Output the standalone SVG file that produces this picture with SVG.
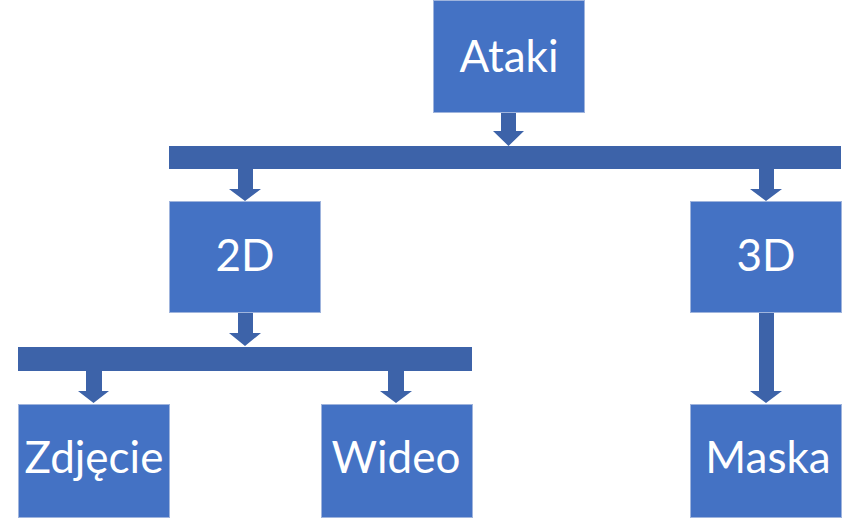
<svg xmlns="http://www.w3.org/2000/svg" width="854" height="518" viewBox="0 0 854 518">
<style>
.box{fill:#4472C4;stroke:#9FB4DD;stroke-width:1}
.lbl{font-family:Lato,"Open Sans","Liberation Sans",sans-serif;font-size:44px;fill:#FFFFFF;text-anchor:middle}
.con{fill:#3D63A9}
</style>
<rect width="854" height="518" fill="#FFFFFF"/>
<g id="connectors">
<polygon class="con" points="501,113 516,113 516,131 524,131 508.5,146 493,131 501,131"/>
<rect class="con" x="169" y="146" width="672" height="23"/>
<polygon class="con" points="238,169 253,169 253,189 261,189 245,201 229,189 238,189"/>
<polygon class="con" points="759,169 774,169 774,189 782,189 766,201 750,189 759,189"/>
<polygon class="con" points="238,313 253,313 253,333 261,333 245,346 229,333 238,333"/>
<rect class="con" x="18" y="347" width="454" height="24"/>
<polygon class="con" points="86,371 102,371 102,391 109,391 93.5,403 78,391 86,391"/>
<polygon class="con" points="388,371 404,371 404,391 412,391 396,403 380,391 388,391"/>
<polygon class="con" points="759,313 774,313 774,391 782,391 766,403 750,391 759,391"/>
</g>
<g id="node-ataki"><rect class="box" x="433.5" y="0.5" width="151" height="112"/><text class="lbl" x="509" y="72">Ataki</text></g>
<g id="node-2d"><rect class="box" x="169.5" y="201.5" width="151" height="111"/><text class="lbl" x="245" y="271">2D</text></g>
<g id="node-3d"><rect class="box" x="690.5" y="201.5" width="151" height="111"/><text class="lbl" x="766" y="271">3D</text></g>
<g id="node-zdjecie"><rect class="box" x="18.5" y="404.5" width="151" height="113"/><text class="lbl" x="94" y="473">Zdjęcie</text></g>
<g id="node-wideo"><rect class="box" x="321.5" y="404.5" width="151" height="113"/><text class="lbl" x="396" y="473">Wideo</text></g>
<g id="node-maska"><rect class="box" x="690.5" y="404.5" width="151" height="113"/><text class="lbl" x="768" y="473">Maska</text></g>
</svg>
